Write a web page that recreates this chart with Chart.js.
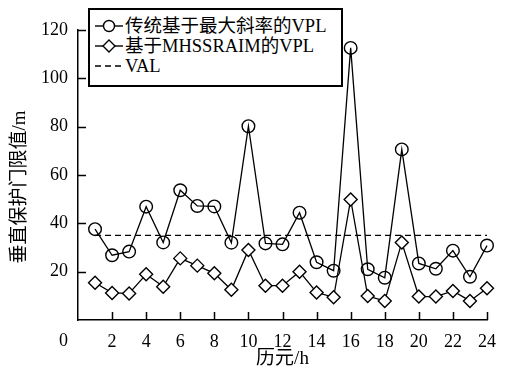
<!DOCTYPE html>
<html>
<head>
<meta charset="utf-8">
<script src="https://cdn.jsdelivr.net/npm/chart.js@4.4.0/dist/chart.umd.min.js"></script>
<style>
    html, body { margin: 0; padding: 0; background: #fff; }
    #wrap { position: relative; width: 507px; height: 373px; }
    #legend {
        position: absolute; left: 88px; top: 8px; width: 251px; height: 69px;
        border: 2px solid #000; background: #fff;
        font-family: "Liberation Serif", "Times New Roman", Times, "DejaVu Serif", "Noto Sans CJK SC", serif; font-size: 18.5px;
        line-height: 20px; padding-top: 6px; box-sizing: content-box;
    }
    #legend .row { display: flex; align-items: center; height: 20px; white-space: nowrap; }
    #legend svg { margin-left: 5px; margin-right: 2px; }
</style>
</head>
<body>
<div id="wrap">
    <canvas id="vpl-chart" width="507" height="373"></canvas>
    <div id="legend"></div>
</div>
<script>
const FONT = '"Liberation Serif", "Times New Roman", Times, "DejaVu Serif", "Noto Sans CJK SC", serif';

// data
const epochs = [1, 2, 3, 4, 5, 6, 7, 8, 9, 10, 11, 12, 13, 14, 15, 16, 17, 18, 19, 20, 21, 22, 23, 24];
const vplSlope = [37.6, 26.8, 28.3, 46.9, 32.1, 53.7, 47.2, 47, 32, 80.2, 31.7, 31.3, 44.4, 23.9, 20.4, 112.6, 21, 17.5, 70.6, 23.4, 21.2, 28.7, 17.9, 30.8];
const vplMhss = [15.4, 11.2, 11, 18.9, 13.8, 25.5, 22.5, 19.3, 12.5, 29, 14.2, 14.2, 20, 11.4, 9.4, 49.9, 9.9, 7.9, 32.1, 9.7, 9.7, 12, 7.9, 13.1];
const val = 35;
const xTicks = [0, 2, 4, 6, 8, 10, 12, 14, 16, 18, 20, 22, 24];
const yTicks = [0, 20, 40, 60, 80, 100, 120];
const seriesNames = ['传统基于最大斜率的VPL', '基于MHSSRAIM的VPL', 'VAL'];
const yTitle = '垂直保护门限值/m';

const toPoints = (ys) => ys.map((y, i) => ({ x: epochs[i], y: y }));

// inward tick marks, the shared "0" at the corner and the y title
const axisDecor = {
    id: 'axisDecor',
    afterDraw(chart) {
        const { ctx, chartArea, scales } = chart;
        ctx.save();
        ctx.strokeStyle = '#000';
        ctx.lineWidth = 1.5;
        ctx.beginPath();
        yTicks.forEach(v => {
            if (v === 0) return;
            const py = Math.round(scales.y.getPixelForValue(v)) + 0.5;
            ctx.moveTo(chartArea.left, py);
            ctx.lineTo(chartArea.left + 8, py);
        });
        xTicks.forEach(v => {
            if (v === 0) return;
            const px = Math.round(scales.x.getPixelForValue(v)) + 0.5;
            ctx.moveTo(px, chartArea.bottom);
            ctx.lineTo(px, chartArea.bottom - 8);
        });
        ctx.stroke();
        ctx.fillStyle = '#000';
        ctx.font = '18px ' + FONT;
        ctx.textAlign = 'right';
        ctx.textBaseline = 'middle';
        ctx.fillText('0', chartArea.left - 10, chartArea.bottom + 21);

        ctx.translate(20, 187);
        ctx.rotate(-Math.PI / 2);
        ctx.font = '19px ' + FONT;
        ctx.textAlign = 'center';
        ctx.fillText(yTitle, 0, 0);
        ctx.restore();
    }
};

const ctx = document.getElementById('vpl-chart').getContext('2d');
const vplChart = new Chart(ctx, {
    type: 'line',
    data: {
        datasets: [
            {
                label: seriesNames[0],
                data: toPoints(vplSlope),
                borderColor: '#000',
                borderWidth: 1.3,
                pointStyle: 'circle',
                pointRadius: 6.3,
                pointBorderWidth: 1.4,
                pointBackgroundColor: 'rgba(255,255,255,0)',
                pointBorderColor: '#000',
                clip: false,
                tension: 0
            },
            {
                label: seriesNames[1],
                data: toPoints(vplMhss),
                borderColor: '#000',
                borderWidth: 1.3,
                pointStyle: 'rectRot',
                pointRadius: 6.5,
                pointBorderWidth: 1.4,
                pointBackgroundColor: '#fff',
                pointBorderColor: '#000',
                clip: false,
                tension: 0
            },
            {
                label: seriesNames[2],
                data: epochs.map(x => ({ x: x, y: val })),
                borderColor: '#000',
                borderWidth: 1.3,
                borderDash: [6, 4],
                pointRadius: 0,
                clip: false,
                tension: 0
            }
        ]
    },
    plugins: [axisDecor],
    options: {
        responsive: false,
        animation: false,
        events: [],
        layout: { padding: { top: 30, right: 19, bottom: 0, left: 0 } },
        plugins: {
            legend: { display: false },
            tooltip: { enabled: false }
        },
        scales: {
            x: {
                type: 'linear',
                min: 0,
                max: 24,
                afterFit: (scale) => { scale.height = 53; },
                afterBuildTicks: (scale) => { scale.ticks = xTicks.map(v => ({ value: v })); },
                grid: { display: false, drawTicks: false },
                border: { display: true, color: '#000', width: 1.5 },
                ticks: {
                    color: '#000',
                    font: { family: FONT, size: 18 },
                    padding: 11,
                    maxRotation: 0,
                    callback: (v) => (v === 0 ? '' : String(v))
                },
                title: {
                    display: true,
                    text: '历元/h',
                    color: '#000',
                    font: { family: FONT, size: 19 },
                    padding: { top: 0, bottom: 3 }
                }
            },
            y: {
                min: 0,
                max: 120,
                afterFit: (scale) => { scale.width = 78; },
                afterBuildTicks: (scale) => { scale.ticks = yTicks.map(v => ({ value: v })); },
                grid: { display: false, drawTicks: false },
                border: { display: true, color: '#000', width: 1.5 },
                ticks: {
                    color: '#000',
                    font: { family: FONT, size: 18 },
                    padding: 10,
                    callback: (v) => (v === 0 ? '' : String(v))
                }
            }
        }
    }
});

// html legend with line + marker samples
const icons = [
    '<svg width="28" height="14"><line x1="0" y1="7" x2="28" y2="7" stroke="#000" stroke-width="1.4"/><circle cx="14" cy="7" r="5.5" fill="#fff" stroke="#000" stroke-width="1.4"/></svg>',
    '<svg width="28" height="14"><line x1="0" y1="7" x2="28" y2="7" stroke="#000" stroke-width="1.4"/><polygon points="14,1 20,7 14,13 8,7" fill="#fff" stroke="#000" stroke-width="1.4"/></svg>',
    '<svg width="28" height="14"><line x1="0" y1="7" x2="28" y2="7" stroke="#000" stroke-width="1.4" stroke-dasharray="6,4"/></svg>'
];
document.getElementById('legend').innerHTML = seriesNames
    .map((name, i) => '<div class="row">' + icons[i] + '<span>' + name + '</span></div>')
    .join('');
</script>
</body>
</html>
